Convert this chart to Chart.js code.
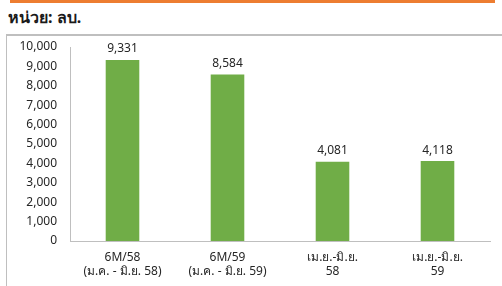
<!DOCTYPE html>
<html>
<head>
<meta charset="utf-8">
<script src="https://cdn.jsdelivr.net/npm/chart.js@4"></script>
<style>
    body { margin: 0; background: #fff; font-family: "Noto Sans", "DejaVu Sans", sans-serif; }
    #wrap { position: relative; width: 502px; height: 286px; overflow: hidden; }
    #topline { position: absolute; left: 10px; top: 0; width: 485px; height: 3px; background: #ED7D31; }
    #unit { position: absolute; left: 8px; top: 5px; font-size: 16px; font-weight: bold; color: #1a1a1a; }
    #box { position: absolute; left: 6px; top: 34px; width: 520px; height: 280px; border-left: 1px solid #bfbfbf; border-top: 2px solid #bfbfbf; }
    #chart { position: absolute; left: 0; top: 0; }
</style>
</head>
<body>
<div id="wrap">
    <div id="topline"></div>
    <div id="unit">หน่วย: ลบ.</div>
    <div id="box"></div>
    <canvas id="chart" width="502" height="286"></canvas>
</div>
<script>
const categories = [
    ['6M/58', '(ม.ค. - มิ.ย. 58)'],
    ['6M/59', '(ม.ค. - มิ.ย. 59)'],
    ['เม.ย.-มิ.ย.', '58'],
    ['เม.ย.-มิ.ย.', '59']
];
const values = [9331, 8584, 4081, 4118];

const fontFamily = '"Noto Sans", "DejaVu Sans", sans-serif';

// etiquetas de valor encima de cada barra
const barLabels = {
    id: 'barLabels',
    afterDatasetsDraw(chart) {
        const ctx = chart.ctx;
        const meta = chart.getDatasetMeta(0);
        ctx.save();
        ctx.font = '12px ' + fontFamily;
        ctx.fillStyle = '#262626';
        ctx.textAlign = 'center';
        ctx.textBaseline = 'bottom';
        meta.data.forEach((bar, i) => {
            ctx.fillText(values[i].toLocaleString('en-US'), bar.x, bar.y - 5);
        });
        ctx.restore();
    }
};

new Chart(document.getElementById('chart'), {
    type: 'bar',
    data: {
        labels: categories,
        datasets: [{
            data: values,
            backgroundColor: '#70AD47',
            borderWidth: 0,
            categoryPercentage: 1,
            barPercentage: 0.32
        }]
    },
    options: {
        responsive: false,
        animation: false,
        layout: { padding: { left: 6, right: 12, top: 47, bottom: 0 } },
        plugins: { legend: { display: false }, tooltip: { enabled: false } },
        scales: {
            x: {
                grid: { display: false, drawTicks: false },
                border: { color: '#bfbfbf' },
                ticks: {
                    color: '#262626',
                    font: { size: 12, family: fontFamily, lineHeight: 1.2 },
                    padding: 9,
                    maxRotation: 0,
                    autoSkip: false
                },
                afterFit(scale) { scale.height = 45; }
            },
            y: {
                min: 0,
                max: 10000,
                grid: { display: false, drawTicks: false },
                border: { color: '#bfbfbf' },
                ticks: {
                    stepSize: 1000,
                    color: '#262626',
                    font: { size: 12, family: fontFamily },
                    padding: 13,
                    callback: (v) => v.toLocaleString('en-US')
                },
                afterFit(scale) { scale.width = 64; }
            }
        }
    },
    plugins: [barLabels]
});
</script>
</body>
</html>
